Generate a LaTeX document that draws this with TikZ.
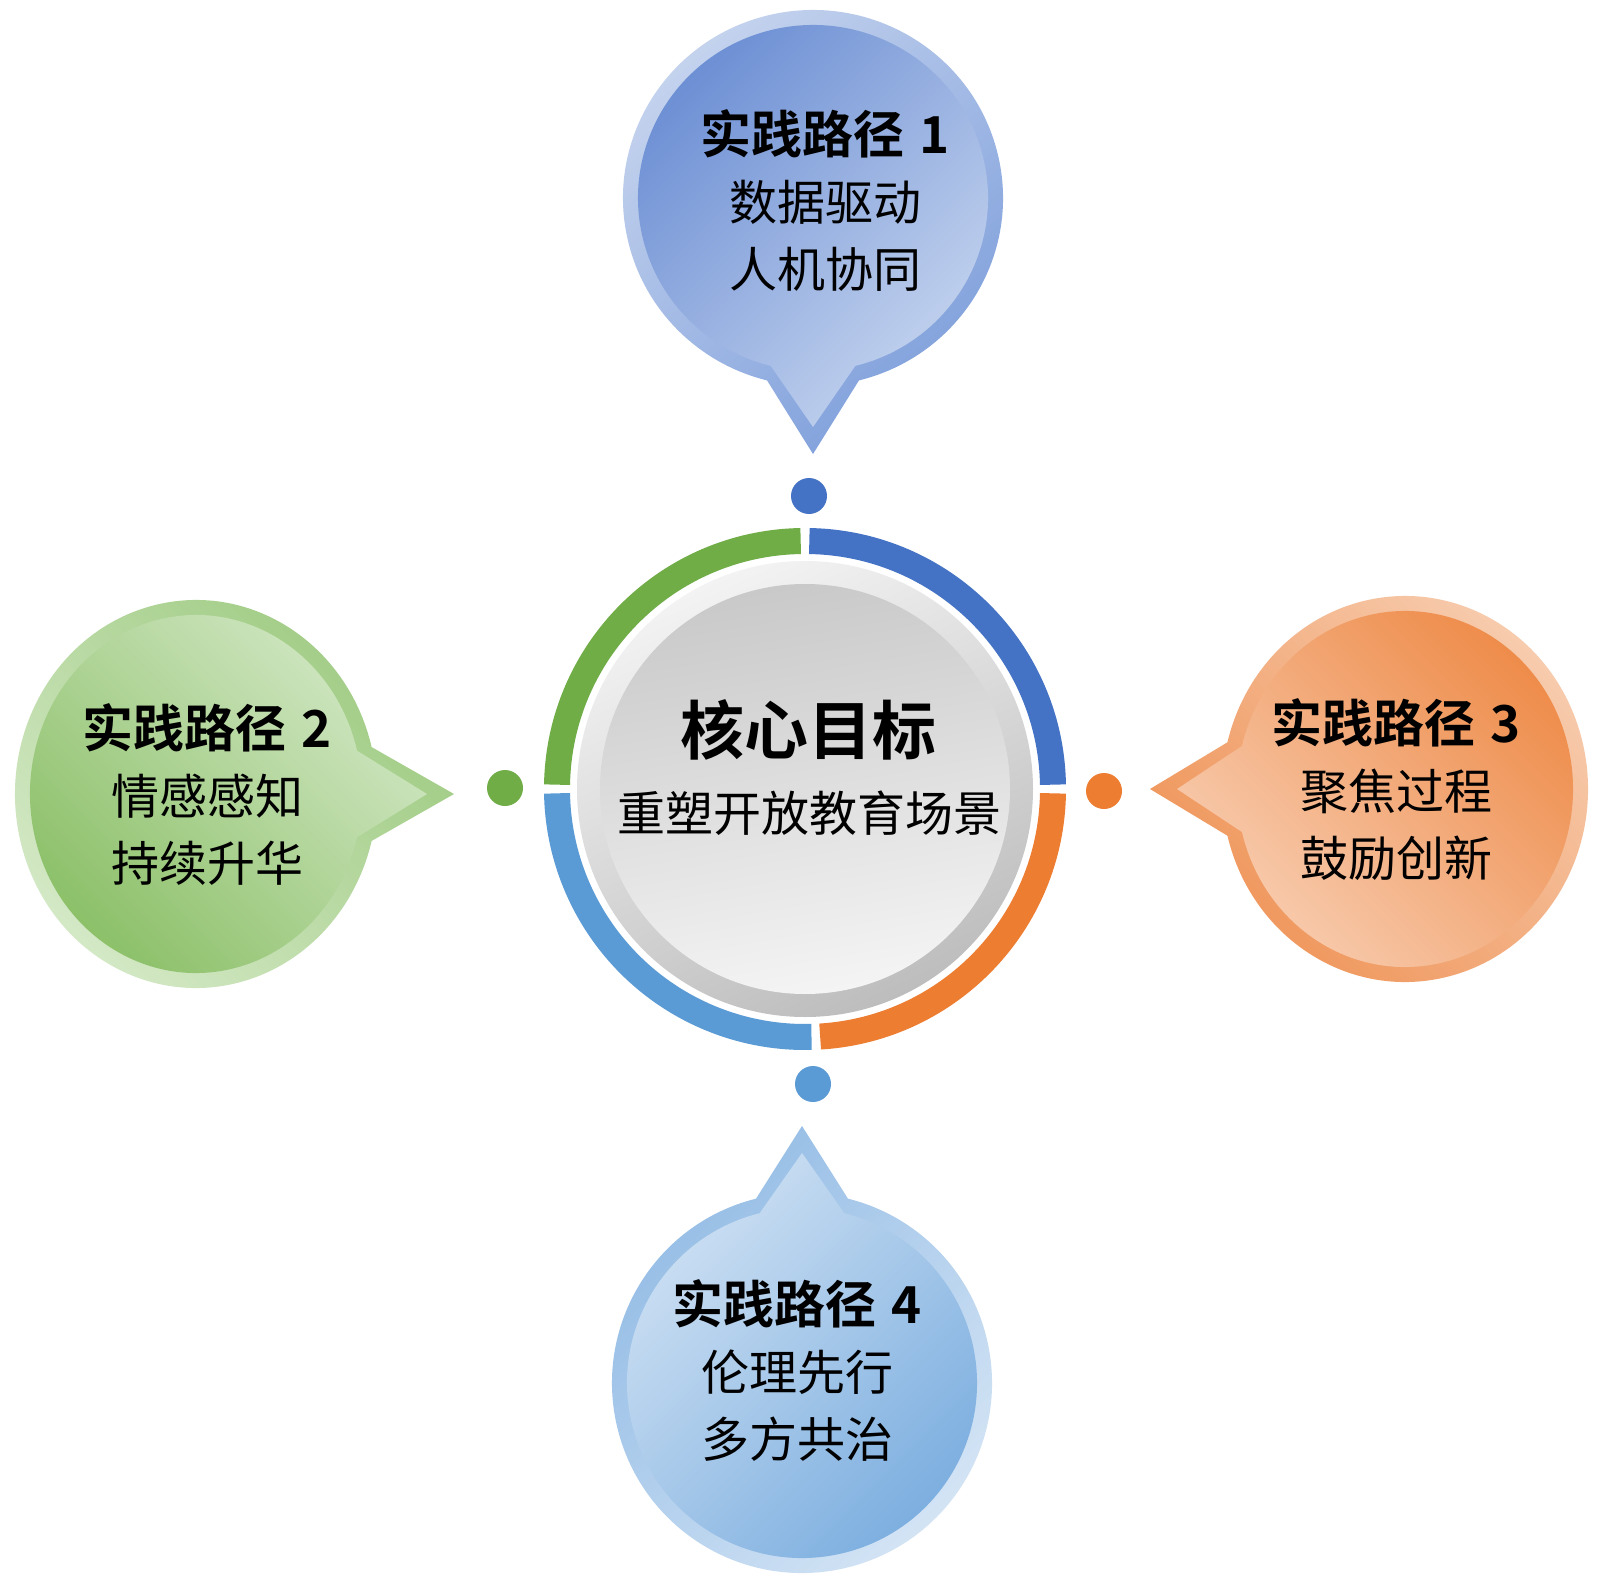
\documentclass[tikz,border=0pt]{standalone}
\usepackage{fontspec}
\newfontfamily\cjk[BoldFont={Noto Sans CJK SC Bold}]{Noto Sans CJK SC}
\definecolor{cblue}{HTML}{4472C4}
\definecolor{cgreen}{HTML}{70AD47}
\definecolor{corange}{HTML}{ED7D31}
\definecolor{clblue}{HTML}{5B9BD5}
\definecolor{bAbo}{HTML}{C6D4EE}\definecolor{bAbt}{HTML}{7D9EDB}
\definecolor{bAfo}{HTML}{6A8DD3}\definecolor{bAft}{HTML}{C6D5EF}
\definecolor{bBbo}{HTML}{9DCA80}\definecolor{bBbt}{HTML}{D5E9C7}
\definecolor{bBfo}{HTML}{D3E8C6}\definecolor{bBft}{HTML}{8ABF66}
\definecolor{bCbo}{HTML}{F7CDB0}\definecolor{bCbt}{HTML}{EF9255}
\definecolor{bCfo}{HTML}{EE8A47}\definecolor{bCft}{HTML}{F8CFB4}
\definecolor{bDbo}{HTML}{92BBE5}\definecolor{bDbt}{HTML}{D5E5F5}
\definecolor{bDfo}{HTML}{CFE1F3}\definecolor{bDft}{HTML}{7AADDF}
\definecolor{gRa}{HTML}{F3F3F3}\definecolor{gRb}{HTML}{BDBDBD}
\definecolor{gDa}{HTML}{C9C9C9}\definecolor{gDb}{HTML}{F4F4F4}
% bubble: #1 cx, #2 cy, #3 a, #4 b, #5 tail dir, #6 tip distance, #7 border style, #8 fill style
\newcommand\drawbubble[8]{%
 \pgfmathsetmacro\bcx{#1}\pgfmathsetmacro\bcy{#2}%
 \pgfmathsetmacro\ba{#3}\pgfmathsetmacro\bb{#4}%
 \pgfmathsetmacro\bsa{#5+14}\pgfmathsetmacro\bea{#5+346}%
 \pgfmathsetmacro\btx{#1+#6*cos(#5)}\pgfmathsetmacro\bty{#2+#6*sin(#5)}%
 \pgfmathsetmacro\bia{#3-15}\pgfmathsetmacro\bib{#4-15}%
 \pgfmathsetmacro\bitx{#1+(#6-27)*cos(#5)}\pgfmathsetmacro\bity{#2+(#6-27)*sin(#5)}%
 \shade[#7] (\bcx,\bcy) ++(\bsa:\ba pt and \bb pt) arc[start angle=\bsa, end angle=\bea, x radius=\ba pt, y radius=\bb pt] -- (\btx,\bty) -- cycle;
 \shade[#8] (\bcx,\bcy) ++(\bsa:\bia pt and \bib pt) arc[start angle=\bsa, end angle=\bea, x radius=\bia pt, y radius=\bib pt] -- (\bitx,\bity) -- cycle;
}
\newcommand\ptitle[1]{{\bfseries\fontsize{51}{67}\selectfont 实践路径\hspace{0.3em}#1}}
\tikzset{
 btext/.style={align=center, font=\cjk\fontsize{48}{67}\selectfont, inner sep=0pt},
 dot/.style={circle, inner sep=0pt, minimum size=36pt},
 ringarc/.style={line width=26pt},
}
\begin{document}
\begin{tikzpicture}[x=1pt,y=1pt]
\useasboundingbox (0,0) rectangle (1600,-1578);
\fill[white] (0,0) rectangle (1600,-1578);

% bubbles
\drawbubble{813}{-198}{190}{188}{-90}{256}
 {top color=bAbo, bottom color=bAbt, shading angle=40}
 {top color=bAfo, bottom color=bAft, shading angle=45}
\drawbubble{196}{-794}{181}{194}{0}{258}
 {top color=bBbo, bottom color=bBbt, shading angle=-45}
 {top color=bBfo, bottom color=bBft, shading angle=-45}
\drawbubble{1405}{-789}{183}{193}{180}{255}
 {top color=bCbo, bottom color=bCbt, shading angle=-45}
 {top color=bCfo, bottom color=bCft, shading angle=-45}
\drawbubble{802}{-1383}{190}{190}{90}{257}
 {top color=bDbo, bottom color=bDbt, shading angle=45}
 {top color=bDfo, bottom color=bDft, shading angle=45}

% central ring
\coordinate (c) at (805,-789);
\draw[ringarc, cblue] (c) ++(89:248pt) arc[start angle=89, end angle=1, radius=248pt];
\draw[ringarc, corange] (c) ++(-1:248pt) arc[start angle=-1, end angle=-86.5, radius=248pt];
\draw[ringarc, clblue] (c) ++(-88.5:248pt) arc[start angle=-88.5, end angle=-179, radius=248pt];
\draw[ringarc, cgreen] (c) ++(179:248pt) arc[start angle=179, end angle=91, radius=248pt];

% central disc
\shade[top color=gRa, bottom color=gRb, shading angle=25] (c) circle[radius=228pt];
\shade[top color=gDa, bottom color=gDb, shading angle=10] (c) circle[radius=205pt];

% dots
\node[dot, fill=cblue] (d1) at (809,-496) {};
\node[dot, fill=cgreen] (d2) at (505,-788) {};
\node[dot, fill=corange] (d3) at (1104,-791) {};
\node[dot, fill=clblue] (d4) at (813,-1084) {};

% texts
\node[font=\cjk\bfseries\fontsize{64}{70}\selectfont, inner sep=0pt] (goal) at (808,-730) {核心目标};
\node[font=\cjk\fontsize{48}{56}\selectfont, inner sep=0pt] (goalsub) at (809,-813) {重塑开放教育场景};
\node[btext] (t1) at (825,-200) {\ptitle{1}\\数据驱动\\人机协同};
\node[btext] (t2) at (207,-794) {\ptitle{2}\\情感感知\\持续升华};
\node[btext] (t3) at (1396,-790) {\ptitle{3}\\聚焦过程\\鼓励创新};
\node[btext] (t4) at (797,-1370) {\ptitle{4}\\伦理先行\\多方共治};
\end{tikzpicture}
\end{document}
